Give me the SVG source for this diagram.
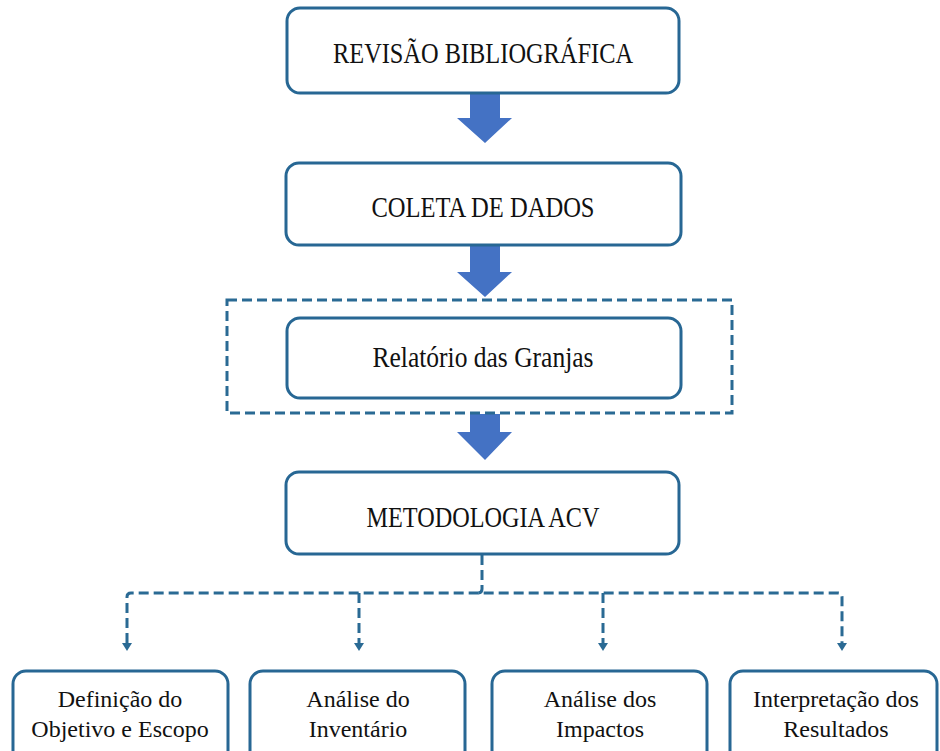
<svg xmlns="http://www.w3.org/2000/svg" width="940" height="751" viewBox="0 0 940 751">
<defs>
<style>
.box{fill:#ffffff;stroke:#276794;stroke-width:3}
.t{font-family:'Liberation Serif','Times New Roman',Times,serif;fill:#111111;text-anchor:middle}
.big{font-size:30px}
.small{font-size:24px}
.dash{fill:none;stroke:#2A6A94;stroke-width:3;stroke-dasharray:10 5}
.blk{fill:#4472C4}
.tip{fill:#2A6A94}
</style>
</defs>
<rect width="940" height="751" fill="#ffffff"/>

<g id="connectors">
  <polygon class="blk" points="470,94 500,94 500,118 512,118 485,143 457,118 470,118"/>
  <polygon class="blk" points="470,246 500,246 500,272 512,272 485,297 457,272 470,272"/>
  <polygon class="blk" points="470,414 500,414 500,432 512,432 485,460 457,432 470,432"/>
  <path class="dash" d="M482,555 V589 Q482,593 478,593"/>
  <path class="dash" d="M127,643 V597 Q127,593 131,593 H838 Q842,593 842,597 V643"/>
  <path class="dash" d="M359,593 V643"/>
  <path class="dash" d="M603,593 V643"/>
  <polygon class="tip" points="122,643 132,643 127,651"/>
  <polygon class="tip" points="354,643 364,643 359,651"/>
  <polygon class="tip" points="598,643 608,643 603,651"/>
  <polygon class="tip" points="837,643 847,643 842,651"/>
</g>

<g id="node-revisao">
  <rect class="box" x="287" y="8" width="392" height="85" rx="13"/>
  <text class="t big" x="483" y="63" textLength="300" lengthAdjust="spacingAndGlyphs">REVISÃO BIBLIOGRÁFICA</text>
</g>

<g id="node-coleta">
  <rect class="box" x="286" y="163" width="395" height="82" rx="13"/>
  <text class="t big" x="483" y="217" textLength="223" lengthAdjust="spacingAndGlyphs">COLETA DE DADOS</text>
</g>

<g id="group-relatorio">
  <rect class="dash" x="227" y="300" width="505" height="113"/>
</g>

<g id="node-relatorio">
  <rect class="box" x="287" y="318" width="394" height="80" rx="13"/>
  <text class="t big" x="483" y="367" textLength="221" lengthAdjust="spacingAndGlyphs">Relatório das Granjas</text>
</g>

<g id="node-metodologia">
  <rect class="box" x="286" y="472" width="393" height="82" rx="13"/>
  <text class="t big" x="483" y="527" textLength="233" lengthAdjust="spacingAndGlyphs">METODOLOGIA ACV</text>
</g>

<g id="node-definicao">
  <rect class="box" x="13" y="671" width="215" height="95" rx="13"/>
  <text class="t small" x="120" y="707">Definição do</text>
  <text class="t small" x="120" y="737">Objetivo e Escopo</text>
</g>

<g id="node-inventario">
  <rect class="box" x="250" y="671" width="215" height="95" rx="13"/>
  <text class="t small" x="358" y="707">Análise do</text>
  <text class="t small" x="358" y="737">Inventário</text>
</g>

<g id="node-impactos">
  <rect class="box" x="492" y="671" width="215" height="95" rx="13"/>
  <text class="t small" x="600" y="707">Análise dos</text>
  <text class="t small" x="600" y="737">Impactos</text>
</g>

<g id="node-interpretacao">
  <rect class="box" x="730" y="671" width="207" height="95" rx="13"/>
  <text class="t small" x="836" y="707">Interpretação dos</text>
  <text class="t small" x="836" y="737">Resultados</text>
</g>
</svg>
